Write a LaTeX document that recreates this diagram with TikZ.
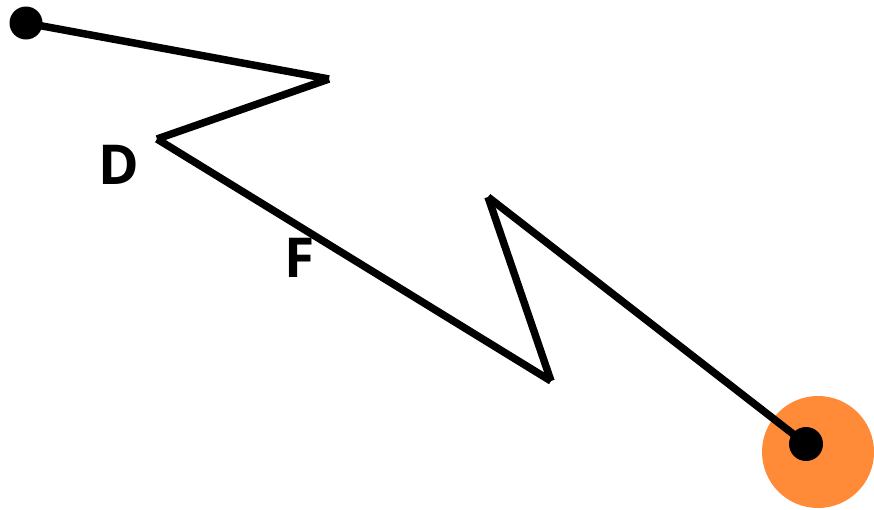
\documentclass[tikz,border=0pt]{standalone}
\usepackage{fontspec}
\setmainfont{Open Sans}
\definecolor{orangefill}{HTML}{FF8A38}
\begin{document}
\begin{tikzpicture}[x=1pt,y=-1pt,
  seg/.style={line width=7.5pt,line cap=butt},
  lbl/.style={font=\fontsize{55}{60}\selectfont\bfseries,inner sep=0pt}]
\useasboundingbox (0,0) rectangle (874,509);
\fill[orangefill] (818,452) circle (56);
\coordinate (p0) at (26,23);
\coordinate (p1) at (329,79);
\coordinate (p2) at (157,139);
\coordinate (p3) at (551,381);
\coordinate (p4) at (488,197);
\coordinate (p5) at (806,444);
\draw[seg] (p0) -- (p1);
\draw[seg] (p1) -- (p2);
\draw[seg] (p2) -- (p3);
\draw[seg] (p3) -- (p4);
\draw[seg] (p4) -- (p5);
\fill (p0) circle (16.5);
\fill (p5) circle (17);
\node[lbl] (d) at (119,165) {D};
\node[lbl] (f) at (300,258) {F};
\end{tikzpicture}
\end{document}
